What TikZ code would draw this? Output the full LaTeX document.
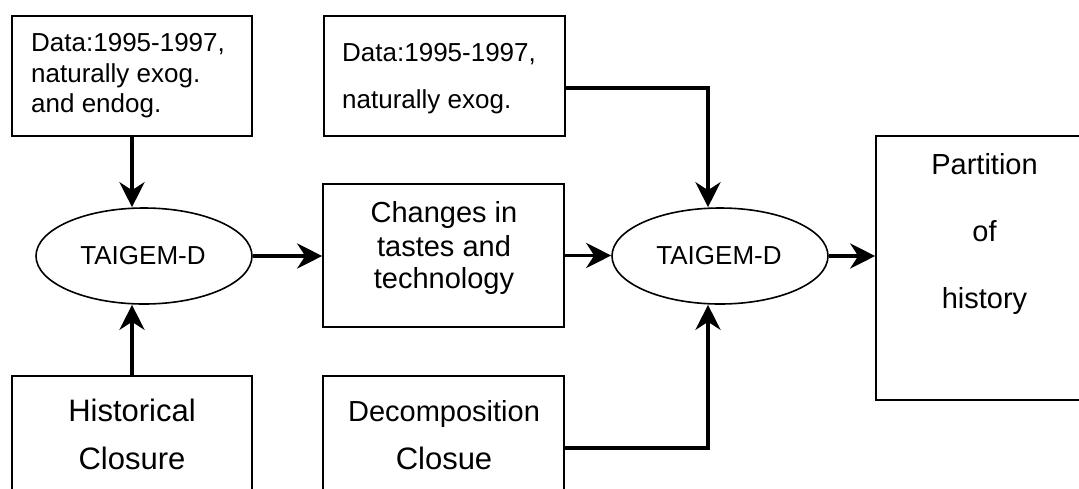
\documentclass[tikz,border=0pt]{standalone}
\usepackage{fontspec}
\setmainfont{Liberation Sans}
\usetikzlibrary{arrows.meta,shapes.geometric}

\tikzset{
  frame/.style={draw, line width=1.6pt, rectangle, inner sep=0pt},
  oval/.style={draw, line width=1.6pt, ellipse, inner sep=0pt,
               minimum width=216pt, minimum height=96pt},
  flow/.style={line width=3.8pt,
               -{Stealth[length=25pt, width=25pt, inset=8pt]}},
  txt/.style={inner sep=0pt, font=\fontsize{26}{30}\selectfont},
  mid/.style={inner sep=0pt, font=\fontsize{29}{33}\selectfont},
  big/.style={inner sep=0pt, font=\fontsize{31}{36}\selectfont},
}

\begin{document}
\begin{tikzpicture}[x=1pt, y=-1pt]
\useasboundingbox (0,0) rectangle (1079,488);
\clip (0,0) rectangle (1079,488);

% boxes
\node[frame, minimum width=240pt, minimum height=120pt] (d1) at (132,76) {};
\node[frame, minimum width=241pt, minimum height=120pt] (d2) at (444.5,76) {};
\node[frame, minimum width=241pt, minimum height=143pt] (ch) at (443.5,255.5) {};
\node[frame, minimum width=217pt, minimum height=264pt] (pt) at (984.5,268) {};
\node[frame, minimum width=240pt, minimum height=124pt] (hc) at (132,438) {};
\node[frame, minimum width=241pt, minimum height=124pt] (dc) at (443.5,438) {};

% models
\node[oval] (e1) at (144,256) {};
\node[oval] (e2) at (720,256) {};

% texts
\node[txt, anchor=base west] (d1a) at (31,51) {Data:1995-1997,};
\node[txt, anchor=base west] (d1b) at (31,82.5) {naturally exog.};
\node[txt, anchor=base west] (d1c) at (31,112) {and endog.};

\node[txt, anchor=base west] (d2a) at (342,61) {Data:1995-1997,};
\node[txt, anchor=base west] (d2b) at (342,108) {naturally exog.};

\node[txt, anchor=base] (e1t) at (143,264) {TAIGEM-D};
\node[txt, anchor=base] (e2t) at (719,264) {TAIGEM-D};

\node[mid, anchor=base] (cha) at (444,222) {Changes in};
\node[mid, anchor=base] (chb) at (444,256) {tastes and};
\node[mid, anchor=base] (chc) at (444,288) {technology};

\node[mid, anchor=base] (pta) at (984.5,174) {Partition};
\node[mid, anchor=base] (ptb) at (984.5,241.5) {of};
\node[mid, anchor=base] (ptc) at (984.5,308) {history};

\node[big, anchor=base] (hca) at (132,421.5) {Historical};
\node[big, anchor=base] (hcb) at (132,469) {Closure};

\node[mid, anchor=base] (dca) at (444,421) {Decomposition};
\node[big, anchor=base] (dcb) at (444,469) {Closue};

% connectors
\draw[flow] (d1.south) -- (d1.south |- e1.north);
\draw[flow] (hc.north) -- (hc.north |- e1.south);
\draw[flow] (e1.east) -- (e1.east -| ch.west);
\draw[flow] (ch.east) -- (ch.east -| e2.west);
\draw[flow] ([yshift=-12pt]d2.east) -| ([xshift=-12pt]e2.north);
\draw[flow] ([yshift=-10pt]dc.east) -| ([xshift=-12pt]e2.south);
\draw[flow] (e2.east) -- (e2.east -| pt.west);
\end{tikzpicture}
\end{document}
